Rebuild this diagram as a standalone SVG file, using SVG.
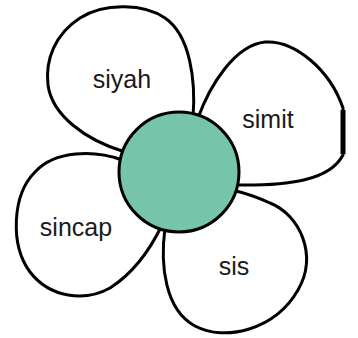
<svg xmlns="http://www.w3.org/2000/svg" width="358" height="338" viewBox="0 0 358 338">
<style>
.petal{fill:#fff;stroke:#000;stroke-width:3;stroke-linejoin:round}
.lbl{font-family:"Liberation Sans",Arial,sans-serif;font-size:25px;fill:#1a1a1a;text-anchor:middle}
</style>
<rect width="358" height="338" fill="#fff"/>
<g id="petal-siyah">
<path class="petal" d="M193,118 C196,80 190,35 165,18 C145,4 105,2 80,18 C55,34 45,60 48,85 C52,115 85,140 125,152 Z"/>
<text class="lbl" x="122" y="88">siyah</text>
</g>
<g id="petal-simit">
<path class="petal" d="M198,118 C210,85 235,45 265,42 C295,40 330,70 343,108 L343,155 C330,180 290,186 235,185 Z"/>
<line x1="343" y1="110" x2="343" y2="154" stroke="#000" stroke-width="5"/>
<text class="lbl" x="268" y="128">simit</text>
</g>
<g id="petal-sincap">
<path class="petal" d="M122,160 C95,150 55,150 35,172 C12,195 10,245 30,272 C50,298 85,302 110,288 C135,272 150,250 162,225 Z"/>
<text class="lbl" x="76" y="236">sincap</text>
</g>
<g id="petal-sis">
<path class="petal" d="M165,228 C160,265 165,310 195,326 C225,342 275,330 298,290 C318,255 300,215 270,203 C255,196 245,193 232,190 Z"/>
<text class="lbl" x="234" y="275">sis</text>
</g>
<g id="center">
<circle cx="179" cy="172" r="60" fill="#76c4aa" stroke="#000" stroke-width="3"/>
</g>
<g id="connectors"/>
</svg>
